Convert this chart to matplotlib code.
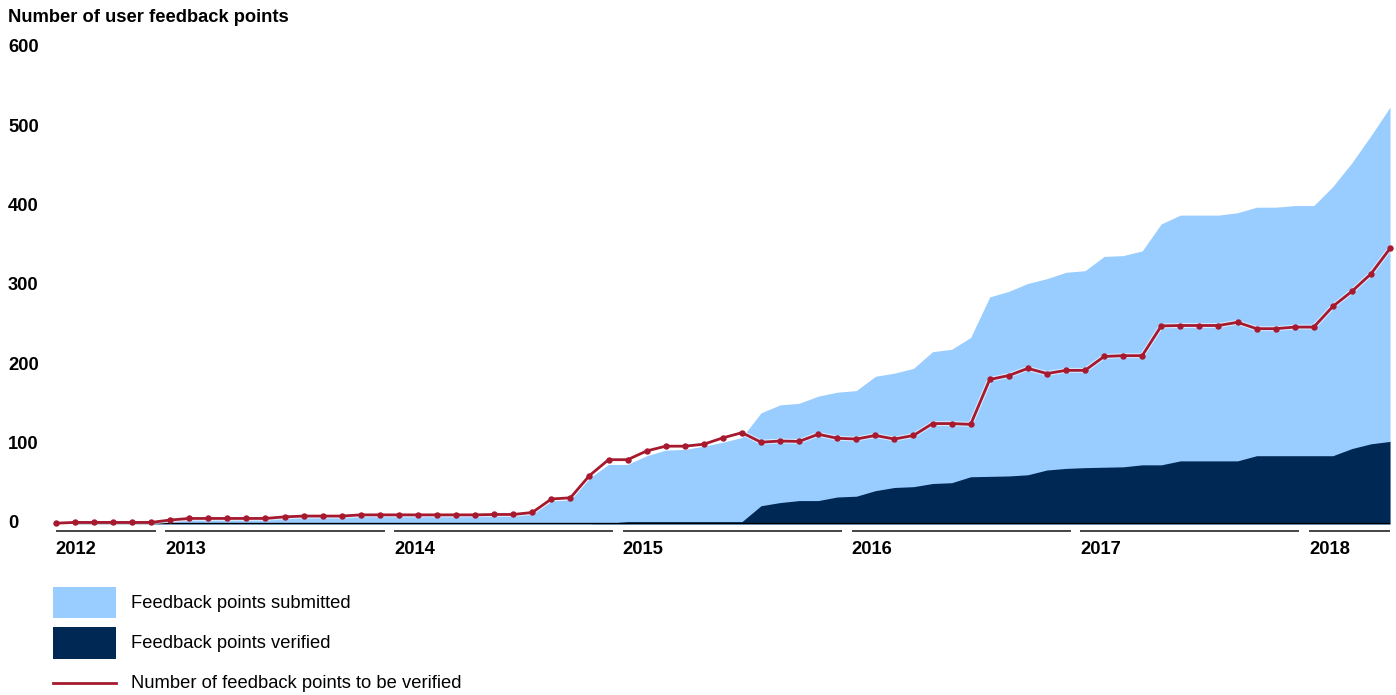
import numpy as np
import pandas as pd
import matplotlib.pyplot as plt
from matplotlib.patches import Rectangle
from matplotlib.lines import Line2D
import matplotlib.transforms as mtransforms

plt.rcParams['font.family'] = ['Liberation Sans', 'DejaVu Sans']

# monthly data, Jul 2012 - May 2018
months = pd.period_range('2012-07', '2018-05', freq='M')

submitted = [None, 2, 2, 2, 2, 2, 4, 6, 6, 6, 6, 6, 8, 9, 9, 9,
             10.5, 10.5, 10.5, 10.5, 10.5, 10.5, 10.5, 11, 11, 13, 29, 31, 58, 75,
             75, 86, 93, 94, 98, 103, 109, 140, 150, 152, 161, 166, 168, 186, 190, 196,
             217, 220, 235, 286, 293, 303, 309, 317, 319, 337, 338, 344, 378, 389,
             389, 389, 392, 399, 399, 401, 401, 425, 455, 489, 525]

verified = [None, 0.5, 0.5, 0.5, 0.5, 0.5, 0.5, 0.5, 0.5, 0.5, 0.5, 0.5, 0.5, 0.5, 0.5, 0.5,
            0.5, 0.5, 0.5, 0.5, 0.5, 0.5, 0.5, 0.5, 0.5, 0.5, 0.5, 0.5, 0.5, 1,
            3, 3, 3, 3, 3, 3, 3, 23, 27, 29.5, 29.5, 34, 35, 42, 46, 47,
            51, 52, 59.5, 60, 60.5, 62, 68, 70, 71, 71.5, 72, 74.5, 74.5, 79.5,
            79.5, 79.5, 79.5, 86, 86, 86, 86, 86, 95, 101, 104]

to_verify = [1, 2, 2, 2, 2, 2, 5, 7, 7, 7, 7, 7, 9, 10, 10, 10,
             11.5, 11.5, 11.5, 11.5, 11.5, 11.5, 11.5, 12, 12, 14.5, 31.5, 33, 61, 81,
             81, 92, 98, 98, 100.5, 108.5, 115, 103, 104.5, 104, 113, 108, 107, 111.5, 107, 111.5,
             126.5, 126.5, 125.5, 182, 187, 196, 189.5, 193.5, 193.5, 211, 212, 212, 249.5, 250,
             250, 250, 254, 246, 246, 248, 248, 274, 293, 315, 347]

y_ticks = [0, 100, 200, 300, 400, 500, 600]

light_blue = '#99CCFF'
navy = '#002855'
red = '#A6192E'

W, H = 1396, 695
fig = plt.figure(figsize=(W / 100, H / 100), dpi=100)
ax = fig.add_axes([55.8 / W, 1 - 524 / H, (1390 - 55.8) / W, (524 - 47.6) / H])

x = np.arange(len(months))
sub = np.array(submitted, dtype=float)
ver = np.array(verified, dtype=float)

ax.fill_between(x, 0, sub, color=light_blue, lw=0)
ax.fill_between(x, 0, ver, color=navy, lw=0)

# baseline
first = x[~np.isnan(sub)][0]
ax.plot([first, x[-1]], [0, 0], color='black', lw=2.4, solid_capstyle='butt', zorder=3)

# faint white halo under the red line
ax.plot(x, to_verify, color='white', lw=3.6, alpha=0.6, clip_on=False, zorder=4)
ax.plot(x, to_verify, color=red, lw=2, marker='o', markersize=4.6, markeredgewidth=0,
        clip_on=False, zorder=5)

ax.set_xlim(0, len(months) - 1)
ax.set_ylim(0, 600)
ax.axis('off')

# y tick labels on the left edge of the figure
trans_y = mtransforms.blended_transform_factory(fig.transFigure, ax.transData)
for t in y_ticks:
    ax.text(8 / W, t, str(t), transform=trans_y, ha='left', va='center',
            fontsize=13.2, fontweight='bold', clip_on=False)

fig.text(8 / W, 1 - 17 / H, 'Number of user feedback points', ha='left', va='center',
         fontsize=13.2, fontweight='bold')

# year segments under the axis
years = sorted(set(p.year for p in months))
for yr in years:
    idx = [i for i, p in enumerate(months) if p.year == yr]
    start = max(idx[0] - 0.25, 0)
    end = min(idx[-1] + 0.25, x[-1])
    ax.plot([start, end], [-8.8, -8.8], color='#444444', lw=1.4, clip_on=False,
            solid_capstyle='butt')
    ax.text(start, -31.5, str(yr), ha='left', va='center', fontsize=13.2,
            fontweight='bold', clip_on=False)

# legend
def fy(py):
    return 1 - py / H

fig.add_artist(Rectangle((53 / W, fy(618)), 63 / W, 31 / H, transform=fig.transFigure,
                         color=light_blue, lw=0))
fig.add_artist(Rectangle((53 / W, fy(659)), 63 / W, 32 / H, transform=fig.transFigure,
                         color=navy, lw=0))
fig.add_artist(Line2D([53 / W, 116 / W], [fy(683), fy(683)], transform=fig.transFigure,
                      color=red, lw=2))
legend_labels = ['Feedback points submitted', 'Feedback points verified',
                 'Number of feedback points to be verified']
for lab, py in zip(legend_labels, [603, 643, 683]):
    fig.text(131 / W, fy(py), lab, ha='left', va='center', fontsize=13.2)

fig.savefig('out.png', dpi=100)
